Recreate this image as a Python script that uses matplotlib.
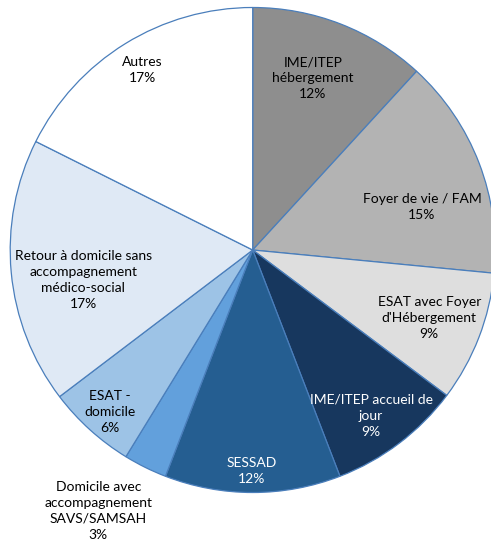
import matplotlib
matplotlib.use("Agg")
import matplotlib.pyplot as plt
import numpy as np

categories = [
    "IME/ITEP\nhébergement",
    "Foyer de vie / FAM",
    "ESAT avec Foyer\nd'Hébergement",
    "IME/ITEP accueil de\njour",
    "SESSAD",
    "Domicile avec\naccompagnement\nSAVS/SAMSAH",
    "ESAT -\ndomicile",
    "Retour à domicile sans\naccompagnement\nmédico-social",
    "Autres",
]
values = [11.8, 14.7, 8.7, 8.9, 11.7, 2.9, 5.9, 17.7, 17.6]
pct_labels = ["12%", "15%", "9%", "9%", "12%", "3%", "6%", "17%", "17%"]

colors = ["#8e8e8e", "#b3b3b3", "#dedede", "#17375e", "#255e91",
          "#62a0dc", "#9dc3e6", "#dfe9f5", "#ffffff"]
text_colors = ["black", "black", "black", "white", "white",
               "black", "black", "black", "black"]
label_r = [0.75, 0.72, 0.78, 0.84, 0.91, 1.25, 0.89, 0.71, 0.87]
label_dtheta = [-1.9, 6.9, -0.1, 1.6, 0.2, 4.3, -0.7, -4.8, 0.2]  # clockwise offsets

W, H = 491, 546
fig = plt.figure(figsize=(W / 100, H / 100), dpi=100)
cx, cy, R = 252.7, 250.0, 242.5
ax = fig.add_axes([(cx - R) / W, (H - cy - R) / H, 2 * R / W, 2 * R / H])

wedges, _ = ax.pie(values, colors=colors, startangle=90, counterclock=False,
                   radius=1.0, center=(0, 0),
                   wedgeprops=dict(edgecolor="#4a7ebb", linewidth=0.9))
ax.set_xlim(-1, 1)
ax.set_ylim(-1, 1)
ax.set_aspect("equal")
ax.axis("off")
for w in wedges:
    w.set_clip_on(False)

for w, cat, pct, tc, r, dth in zip(wedges, categories, pct_labels, text_colors,
                                   label_r, label_dtheta):
    mid = np.deg2rad((w.theta1 + w.theta2) / 2 - dth)
    x, y = r * np.cos(mid), r * np.sin(mid)
    ax.text(x, y, cat + "\n" + pct, ha="center", va="center", color=tc,
            fontsize=10, family="Lato", linespacing=1.4, clip_on=False)

fig.savefig("out.png", dpi=100)
